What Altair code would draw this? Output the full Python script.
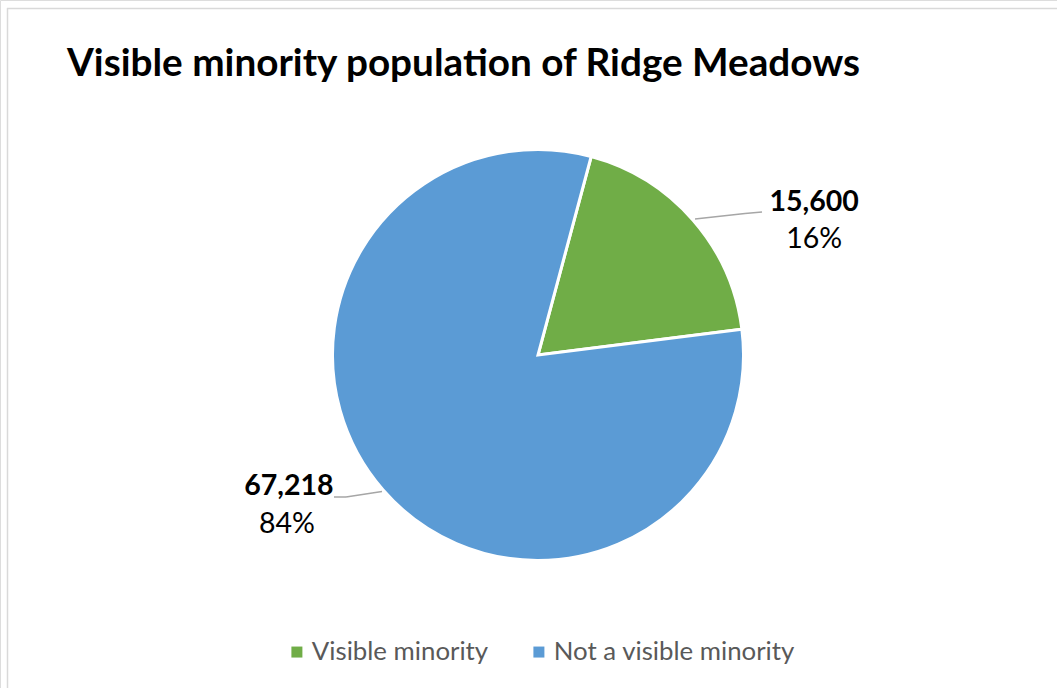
import altair as alt
import pandas as pd

categories = ["Visible minority", "Not a visible minority"]
values = [15600, 67218]
pct_labels = ["16%", "84%"]
ranks = [0, 1]
colors = ["#70AD47", "#5B9BD5"]
title_text = "Visible minority population of Ridge Meadows"

df = pd.DataFrame({"category": categories, "value": values, "pct": pct_labels, "rank": ranks})

FONT = "Lato"
CX, CY, R = 538, 355, 205.5
START = 15 * 3.14159265 / 180

base = alt.Chart(df).encode(
    theta=alt.Theta("value:Q", stack=True,
                    scale=alt.Scale(range=[START, START + 2 * 3.14159265])),
    order=alt.Order("rank:Q"),
    x=alt.value(CX), y=alt.value(CY),
)

pie = base.mark_arc(radius=R, stroke="white", strokeWidth=3).encode(
    color=alt.Color("category:N",
                    scale=alt.Scale(domain=categories, range=colors),
                    legend=alt.Legend(title=None, orient="none", direction="horizontal",
                                      legendX=284, legendY=639, symbolType="square",
                                      symbolSize=121, symbolStrokeWidth=0,
                                      labelFont=FONT, labelFontSize=25.8, labelColor="#595959",
                                      labelLimit=0,
                                      labelOffset=2, columnPadding=37, columns=2)),
)

def label_layer(cat, kind, dx, dy):
    if kind == "num":
        expr = f"datum.category === '{cat}' ? format(datum.value, ',') : ''"
        weight = "bold"
    else:
        expr = f"datum.category === '{cat}' ? datum.pct : ''"
        weight = "normal"
    return base.transform_calculate(lab=expr).mark_text(
        radius=300, font=FONT, fontSize=28.5, fontWeight=weight, color="#000000",
        dx=dx, dy=dy, align="center", baseline="middle"
    ).encode(text="lab:N")

labels = [
    label_layer("Visible minority", "num", 50, 44),
    label_layer("Visible minority", "pct", 50, 81),
    label_layer("Not a visible minority", "num", -23, -66),
    label_layer("Not a visible minority", "pct", -25, -28),
]

leader_color = "#A6A6A6"
ann = alt.Chart(pd.DataFrame({"a": [0]}))
leaders = [
    ann.mark_rule(color=leader_color, strokeWidth=1.5).encode(
        x=alt.value(695), y=alt.value(219), x2=alt.value(745), y2=alt.value(213.5)),
    ann.mark_rule(color=leader_color, strokeWidth=1.5).encode(
        x=alt.value(745), y=alt.value(213.5), x2=alt.value(762), y2=alt.value(212)),
    ann.mark_rule(color=leader_color, strokeWidth=1.5).encode(
        x=alt.value(334), y=alt.value(497), x2=alt.value(346), y2=alt.value(497)),
    ann.mark_rule(color=leader_color, strokeWidth=1.5).encode(
        x=alt.value(346), y=alt.value(497), x2=alt.value(382), y2=alt.value(491.5)),
]

border = [
    ann.mark_rule(color="#D9D9D9", strokeWidth=1.5).encode(
        x=alt.value(7), y=alt.value(8.5), x2=alt.value(1060), y2=alt.value(8.5)),
    ann.mark_rule(color="#D9D9D9", strokeWidth=1.5).encode(
        x=alt.value(7.5), y=alt.value(8), x2=alt.value(7.5), y2=alt.value(700)),
]

title = ann.mark_text(text=title_text, font=FONT, fontSize=38.7, fontWeight="bold",
                      color="#000000", align="left", baseline="alphabetic").encode(
    x=alt.value(67), y=alt.value(76))

chart = alt.layer(*border, pie, *leaders, *labels, title).properties(
    width=1057, height=688, padding=0,
    autosize=alt.AutoSizeParams(type="none"),
).configure_view(stroke=None).configure(background="white")

chart.save("out.html", embed_options={"renderer": "svg", "actions": False})
